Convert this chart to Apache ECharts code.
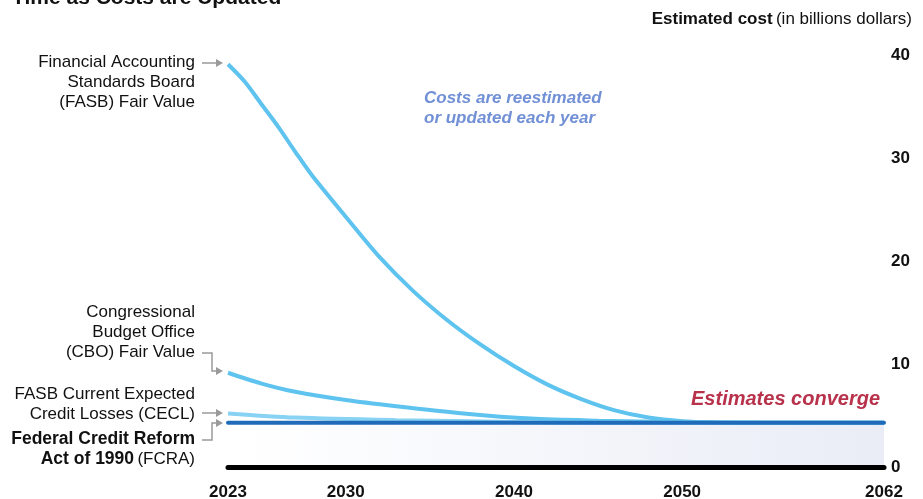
<!DOCTYPE html>
<html>
<head>
<meta charset="utf-8">
<script src="https://cdn.jsdelivr.net/npm/echarts@6/dist/echarts.min.js"></script>
<style>
  html, body { margin: 0; padding: 0; background: #fff; }
  #main { width: 923px; height: 499px; }
</style>
</head>
<body>
<div id="main"></div>
<script>
var chartDom = document.getElementById('main');
var myChart = echarts.init(chartDom);
var option;

const FONT = '"Liberation Sans", Arial, sans-serif';

// x tick labels
const yearTicks = [2023, 2030, 2040, 2050, 2062];
const costTicks = [0, 10, 20, 30, 40];

// [year, estimated cost in billions]
const fasbFairValue = [
  [2023, 39.1], [2024, 37.4], [2025, 35.2], [2026, 33.0], [2027, 30.6],
  [2028, 28.3], [2030, 24.3], [2032, 20.4], [2034, 17.1], [2036, 14.3],
  [2038, 11.9], [2040, 9.8], [2042, 8.0], [2044, 6.6], [2046, 5.5],
  [2048, 4.8], [2050, 4.45], [2052, 4.33], [2054, 4.3], [2062, 4.3]
];
const cboFairValue = [
  [2023, 9.15], [2025, 8.1], [2027, 7.3], [2030, 6.5], [2033, 5.9],
  [2037, 5.2], [2041, 4.7], [2045, 4.5], [2050, 4.35], [2055, 4.3], [2062, 4.3]
];
const fasbCecl = [
  [2023, 5.2], [2027, 4.8], [2033, 4.55], [2040, 4.38], [2045, 4.3], [2062, 4.3]
];
const fcra = [
  [2023, 4.3], [2062, 4.3]
];

const lightBlue = '#5ec3ee';
const paleBlue = '#88d2f4';
const darkBlue = '#1f6bb9';
const arrowGrey = '#9a9a9a';

function labelBlock(lines, right, topY) {
  // right-aligned multi-line label, one text element per line
  return lines.map(function (ln, i) {
    return {
      type: 'text',
      x: right,
      y: topY + i * 20,
      style: {
        text: ln,
        font: '17px ' + FONT,
        fill: '#111',
        align: 'right',
        verticalAlign: 'middle'
      }
    };
  });
}

function arrow(points) {
  const end = points[points.length - 1];
  const shaft = points.slice(0, -1).concat([[end[0] - 6, end[1]]]);
  return [
    { type: 'polyline', shape: { points: shaft }, style: { stroke: arrowGrey, lineWidth: 1.5, fill: null } },
    { type: 'polygon', shape: { points: [[end[0] - 7, end[1] - 4], [end[0], end[1]], [end[0] - 7, end[1] + 4]] }, style: { fill: arrowGrey } }
  ];
}

let graphics = [];
graphics.push({
  type: 'text', x: 12, y: 9,
  style: { text: 'Time as Costs are Updated', font: 'bold 21px ' + FONT, fill: '#111', verticalAlign: 'bottom' }
});
graphics.push({
  type: 'text', x: 912, y: 19,
  style: {
    text: '{b|Estimated cost} {n|(in billions dollars)}',
    align: 'right', verticalAlign: 'middle',
    rich: {
      b: { font: 'bold 17px ' + FONT, fill: '#111' },
      n: { font: '17px ' + FONT, fill: '#111' }
    }
  }
});
graphics = graphics.concat(labelBlock(['Financial Accounting', 'Standards Board', '(FASB) Fair Value'], 195, 62));
graphics = graphics.concat(labelBlock(['Congressional', 'Budget Office', '(CBO) Fair Value'], 195, 312));
graphics = graphics.concat(labelBlock(['FASB Current Expected', 'Credit Losses (CECL)'], 195, 394));
graphics.push({
  type: 'text', x: 195, y: 439,
  style: { text: 'Federal Credit Reform', font: 'bold 17.5px ' + FONT, fill: '#111', align: 'right', verticalAlign: 'middle' }
});
graphics.push({
  type: 'text', x: 195, y: 459,
  style: {
    text: '{b|Act of 1990} {n|(FCRA)}', align: 'right', verticalAlign: 'middle',
    rich: { b: { font: 'bold 17.5px ' + FONT, fill: '#111' }, n: { font: '17px ' + FONT, fill: '#111' } }
  }
});
graphics = graphics.concat(arrow([[202, 63], [223, 63]]));
graphics = graphics.concat(arrow([[202, 353], [212, 353], [212, 371], [223, 371]]));
graphics = graphics.concat(arrow([[202, 413], [223, 413]]));
graphics = graphics.concat(arrow([[202, 440], [212, 440], [212, 423], [223, 423]]));
graphics.push({
  type: 'text', x: 424, y: 108,
  style: { text: 'Costs are reestimated\nor updated each year', font: 'italic bold 17px ' + FONT, fill: '#7190d6', verticalAlign: 'middle', lineHeight: 20 }
});
graphics.push({
  type: 'text', x: 880, y: 399,
  style: { text: 'Estimates converge', font: 'italic bold 20px ' + FONT, fill: '#b8324b', align: 'right', verticalAlign: 'middle' }
});

option = {
  animation: false,
  grid: { left: 228, right: 39, top: 55, bottom: 32, outerBoundsMode: 'none', containLabel: false },
  xAxis: {
    type: 'value',
    min: 2023,
    max: 2062,
    z: 10,
    splitLine: { show: false },
    axisTick: { show: false },
    axisLine: { show: true, lineStyle: { color: '#000', width: 5 } },
    axisLabel: {
      customValues: yearTicks,
      margin: 17,
      fontFamily: FONT,
      fontWeight: 'bold',
      fontSize: 17,
      color: '#111',
      formatter: function (v) { return String(v); }
    }
  },
  yAxis: {
    type: 'value',
    position: 'right',
    min: 0,
    max: 40,
    interval: 10,
    splitLine: { show: false },
    axisLine: { show: false },
    axisTick: { show: false },
    axisLabel: {
      customValues: costTicks,
      margin: 7,
      fontFamily: FONT,
      fontWeight: 'bold',
      fontSize: 17,
      color: '#111'
    }
  },
  series: [
    {
      name: 'FASB Fair Value',
      type: 'line',
      data: fasbFairValue,
      smooth: 0.3,
      showSymbol: false,
      lineStyle: { color: lightBlue, width: 4 }
    },
    {
      name: 'CBO Fair Value',
      type: 'line',
      data: cboFairValue,
      smooth: 0.3,
      showSymbol: false,
      lineStyle: { color: lightBlue, width: 4 }
    },
    {
      name: 'FASB CECL',
      type: 'line',
      data: fasbCecl,
      smooth: 0.3,
      showSymbol: false,
      lineStyle: { color: paleBlue, width: 4 }
    },
    {
      name: 'FCRA',
      type: 'line',
      data: fcra,
      showSymbol: false,
      z: 3,
      lineStyle: { color: darkBlue, width: 4, cap: 'round' },
      areaStyle: {
        origin: 'start',
        color: new echarts.graphic.LinearGradient(0, 0, 1, 0, [
          { offset: 0, color: '#ffffff' },
          { offset: 1, color: '#e0e4f2' }
        ])
      }
    }
  ],
  graphic: graphics
};

option && myChart.setOption(option);
</script>
</body>
</html>
